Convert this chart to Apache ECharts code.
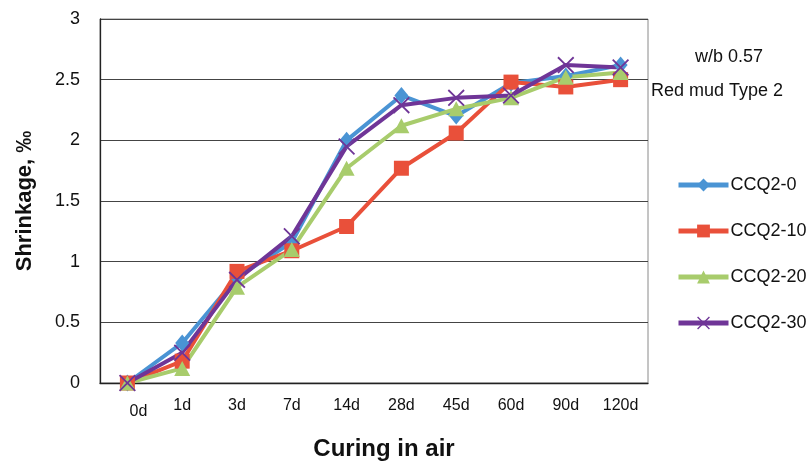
<!DOCTYPE html>
<html><head><meta charset="utf-8">
<script src="https://cdn.jsdelivr.net/npm/echarts@6/dist/echarts.min.js"></script>
<style>html,body{margin:0;padding:0;background:#fff}#c{width:808px;height:466px}</style>
</head><body><div id="c"></div>
<script>
var categories = ['0d','1d','3d','7d','14d','28d','45d','60d','90d','120d'];
var ccq2_0  = [0, 0.33, 0.87, 1.16, 2.00, 2.37, 2.20, 2.47, 2.53, 2.62];
var ccq2_10 = [0, 0.18, 0.92, 1.09, 1.29, 1.77, 2.06, 2.48, 2.44, 2.50];
var ccq2_20 = [0, 0.12, 0.79, 1.10, 1.77, 2.12, 2.26, 2.35, 2.52, 2.56];
var ccq2_30 = [0, 0.25, 0.85, 1.21, 1.95, 2.29, 2.35, 2.37, 2.62, 2.60];
var seriesNames = ['CCQ2-0','CCQ2-10','CCQ2-20','CCQ2-30'];
var yTicks = [0, 0.5, 1, 1.5, 2, 2.5, 3];

var FONT = '"Liberation Sans", Arial, sans-serif';
var cross = 'path://M0,1.5 L1.5,0 L10,8.5 L18.5,0 L20,1.5 L11.5,10 L20,18.5 L18.5,20 L10,11.5 L1.5,20 L0,18.5 L8.5,10 Z';
var colors = ['#4a94d4', '#e9503a', '#a8cc6c', '#6f3597'];
var symbols = ['diamond', 'rect', 'triangle', cross];
var sizes = [[14,17], 15, [16,15], 17];
var data = [ccq2_0, ccq2_10, ccq2_20, ccq2_30];

var series = data.map(function(d, i){
  return {
    name: seriesNames[i], type: 'line', data: d,
    symbol: symbols[i], symbolSize: sizes[i],
    itemStyle: {color: colors[i]},
    lineStyle: {color: colors[i], width: 4},
    emphasis: {disabled: true},
    animation: false
  };
});

var chart = echarts.init(document.getElementById('c'), null, {renderer: 'canvas'});
chart.setOption({
  animation: false,
  backgroundColor: '#fff',
  grid: {left: 100, right: 160, top: 19, bottom: 82, show: true, borderColor: '#8a8a8a', borderWidth: 1},
  xAxis: {
    type: 'category', data: categories, boundaryGap: true,
    axisLine: {lineStyle: {color: '#222', width: 1.3}},
    axisTick: {show: false},
    axisLabel: {
      color: '#111', fontSize: 16, fontFamily: FONT, margin: 15, interval: 0,
      formatter: function(v, idx){ return idx === 0 ? '{a|' + v + '}' : v; },
      rich: {a: {fontSize: 16, fontFamily: FONT, color: '#111', padding: [6, 0, 0, 22]}}
    },
    name: 'Curing in air', nameLocation: 'middle', nameGap: 54,
    nameTextStyle: {fontSize: 24, fontWeight: 'bold', color: '#111', fontFamily: FONT, padding: [0, 0, 0, 20]}
  },
  yAxis: {
    type: 'value', min: 0, max: 3, interval: 0.5,
    axisLine: {show: true, lineStyle: {color: '#222', width: 1.3}},
    axisTick: {show: false},
    splitLine: {lineStyle: {color: '#444', width: 1}},
    axisLabel: {color: '#111', fontSize: 18, fontFamily: FONT, margin: 20,
      formatter: function(v){ return yTicks.indexOf(v) >= 0 ? String(v) : ''; }},
    name: 'Shrinkage, ‰', nameLocation: 'middle', nameGap: 64,
    nameTextStyle: {fontSize: 22, fontWeight: 'bold', color: '#111', fontFamily: FONT}
  },
  legend: {
    orient: 'vertical', left: 676, top: 176, padding: 0, itemWidth: 50, itemHeight: 16, itemGap: 28,
    lineStyle: {width: 5},
    textStyle: {fontSize: 18, color: '#111', fontFamily: FONT, padding: [0,0,0,-3]},
    data: seriesNames
  },
  graphic: [
    {type: 'text', left: 695, top: 48, style: {text: 'w/b 0.57', font: '18px ' + FONT, fill: '#111'}},
    {type: 'text', left: 651, top: 82, style: {text: 'Red mud Type 2', font: '18px ' + FONT, fill: '#111'}}
  ],
  series: series
});
</script></body></html>
